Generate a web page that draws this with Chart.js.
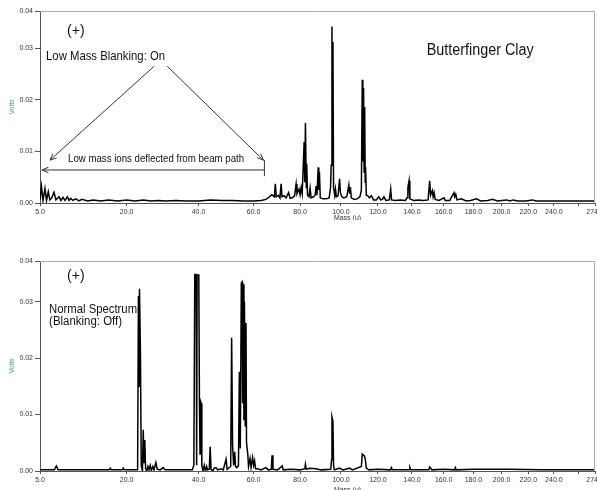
<!DOCTYPE html>
<html>
<head>
<meta charset="utf-8">
<script src="https://cdn.jsdelivr.net/npm/chart.js@4/dist/chart.umd.min.js"></script>
<style>
  body { margin: 0; background: #fff; overflow: hidden; width: 597px; height: 490px; }
  .panel { position: absolute; left: 0; width: 597px; overflow: hidden; }
  #top-panel { top: 0; height: 220px; }
  #bottom-panel { top: 249px; height: 241px; }
</style>
</head>
<body>
<div class="panel" id="top-panel"><canvas id="top-chart" width="597" height="230"></canvas></div>
<div class="panel" id="bottom-panel"><canvas id="bottom-chart" width="597" height="250"></canvas></div>
<script>
// x axis (mass) ticks, the mass axis is on a square-root scale
const massTicks = [5, 20, 40, 60, 80, 100, 120, 140, 160, 180, 200, 220, 240, 260, 274];
const massTickLabels = ['5.0', '20.0', '40.0', '60.0', '80.0', '100.0', '120.0', '140.0', '160.0', '180.0', '200.0', '220.0', '240.0', '', '274.0'];
const voltTicks = [0, 0.01, 0.02, 0.03, 0.0372];
const voltTickLabels = ['0.00', '0.01', '0.02', '0.03', '0.04'];

// Low mass blanking on
const topMass = [
    5.0, 5.17, 5.35, 5.59, 5.78, 6.0, 6.2, 6.45, 6.75, 7.0,
    7.44, 7.7, 8.01, 8.3, 8.66, 8.9, 9.18, 9.5, 9.98, 10.5,
    11, 12, 13, 14.5, 16, 18, 20, 22, 24, 26,
    28, 30, 33, 36, 40, 44, 48, 52, 56, 60,
    63, 65, 66.5, 67.5, 68.6, 69.0, 69.4, 70.3, 71.0, 71.5,
    71.9, 72.7, 73.7, 74.8, 75.5, 76.5, 77.5, 78.2, 78.6, 79.5,
    80.0, 80.5, 81.0, 81.9, 82.2, 82.5, 82.9, 83.1, 83.5, 84.2,
    84.7, 85.2, 86.3, 87.1, 87.6, 88.0, 88.6, 88.9, 89.2, 89.6,
    91, 92.5, 94, 94.7, 95.0, 95.4, 95.6, 95.9, 96.2, 96.8,
    97.2, 97.6, 98.5, 99.3, 99.7, 100.5, 101.5, 103, 104.1, 104.5,
    104.9, 105.4, 107, 108.5, 110, 110.8, 111.3, 111.6, 112.0, 112.3,
    112.6, 112.9, 113.1, 113.5, 114.4, 115.2, 116.3, 117.5, 119, 120.4,
    121.5, 122.5, 123.4, 124.5, 126.5, 127.3, 127.8, 130, 133, 136,
    137.0, 137.5, 138.2, 138.7, 141, 144, 147, 150, 151.0, 151.6,
    152.7, 153.2, 153.8, 154.5, 157, 160.2, 161, 164, 166.8, 167.3,
    168.0, 168.8, 171.8, 175, 178, 182.1, 185, 190, 193.5, 197,
    203.7, 206, 208.6, 212, 218, 223.3, 226, 235, 245, 255,
    265, 274
];
const topVolts = [
    0.0006, 0.0032, 0.0005, 0.0028, 0.0005, 0.0022, 0.0006, 0.0010, 0.0021, 0.0006,
    0.0012, 0.0005, 0.0011, 0.0005, 0.0012, 0.0005, 0.0009, 0.0005, 0.0008, 0.0004,
    0.0007, 0.0004, 0.0006, 0.0004, 0.0006, 0.0004, 0.0006, 0.0004, 0.0006, 0.0004,
    0.0005, 0.0004, 0.0005, 0.0004, 0.0004, 0.0006, 0.0005, 0.0005, 0.0004, 0.0004,
    0.0005, 0.0007, 0.0012, 0.0016, 0.0012, 0.0037, 0.0012, 0.0015, 0.0010, 0.0037,
    0.0012, 0.0014, 0.0010, 0.0020, 0.0009, 0.0010, 0.0014, 0.0037, 0.0018, 0.0027,
    0.0016, 0.0030, 0.0018, 0.0118, 0.0040, 0.0155, 0.0030, 0.0076, 0.0015, 0.0012,
    0.0029, 0.0010, 0.0012, 0.0015, 0.0033, 0.0015, 0.0069, 0.0025, 0.0060, 0.0010,
    0.0008, 0.0008, 0.0010, 0.0030, 0.0073, 0.0342, 0.0100, 0.0312, 0.0030, 0.0015,
    0.0027, 0.0012, 0.0014, 0.0047, 0.0020, 0.0012, 0.0010, 0.0012, 0.0035, 0.0018,
    0.0031, 0.0010, 0.0007, 0.0008, 0.0012, 0.0025, 0.0239, 0.0080, 0.0223, 0.0060,
    0.0186, 0.0040, 0.0069, 0.0015, 0.0014, 0.0010, 0.0014, 0.0006, 0.0006, 0.0012,
    0.0006, 0.0007, 0.0012, 0.0005, 0.0006, 0.0027, 0.0006, 0.0005, 0.0006, 0.0005,
    0.0010, 0.0030, 0.0043, 0.0008, 0.0005, 0.0006, 0.0005, 0.0006, 0.0043, 0.0015,
    0.0024, 0.0012, 0.0020, 0.0007, 0.0005, 0.0010, 0.0005, 0.0005, 0.0020, 0.0012,
    0.0017, 0.0006, 0.0008, 0.0004, 0.0005, 0.0008, 0.0004, 0.0005, 0.0007, 0.0004,
    0.0006, 0.0004, 0.0006, 0.0004, 0.0004, 0.0006, 0.0004, 0.0004, 0.0004, 0.0004,
    0.0004, 0.0004
];

// Normal spectrum, blanking off
const bottomMass = [
    5, 6.8, 7.06, 7.3, 10, 16.2, 16.4, 16.6, 19.0, 19.2,
    19.4, 22.6, 22.8, 22.95, 23.06, 23.3, 23.5, 23.8, 24.0, 24.2,
    24.4, 24.6, 24.9, 25.2, 25.5, 25.8, 26.1, 26.5, 26.8, 27.3,
    27.7, 28.5, 29.3, 29.8, 32, 35, 38.0, 38.5, 38.8, 39.25,
    39.4, 39.55, 40.1, 40.3, 40.5, 40.6, 40.9, 41.1, 41.5, 41.9,
    42.3, 42.7, 43.0, 43.6, 43.9, 44.2, 44.8, 45.3, 45.9, 46.5,
    47.7, 48.5, 49.5, 49.9, 51.2, 51.55, 51.9, 52.3, 52.7, 53.0,
    53.4, 54.1, 54.45, 54.8, 55.2, 55.5, 55.7, 56.0, 56.2, 56.4,
    56.7, 57.0, 57.2, 57.7, 58.0, 58.6, 59.0, 59.6, 60.0, 60.4,
    60.8, 61.6, 63, 65, 66, 67.3, 67.6, 68.0, 70, 72.0,
    72.4, 76, 80, 82.2, 82.5, 82.9, 84.4, 87.6, 90, 94.8,
    95.2, 95.4, 95.9, 96.2, 96.6, 99.3, 101, 104.5, 106, 110.8,
    111.3, 111.9, 112.4, 112.9, 113.5, 115, 120, 127.2, 127.7, 128.3,
    138.2, 138.7, 139.2, 150.5, 151, 151.7, 152.3, 160, 167.2, 167.7,
    168.3, 180, 205, 230, 274
];
const bottomVolts = [
    0.0002, 0.0002, 0.0009, 0.0002, 0.0002, 0.0002, 0.0005, 0.0002, 0.0002, 0.0005,
    0.0002, 0.0002, 0.0310, 0.0150, 0.0323, 0.0209, 0.0010, 0.0000, 0.0073, 0.0015,
    0.0055, 0.0004, 0.0000, 0.0008, 0.0002, 0.0010, 0.0001, 0.0008, 0.0002, 0.0015,
    0.0003, 0.0002, 0.0006, 0.0002, 0.0002, 0.0002, 0.0002, 0.0010, 0.0348, 0.0348,
    0.0010, 0.0347, 0.0347, 0.0129, 0.0030, 0.0125, 0.0120, 0.0010, 0.0000, 0.0010,
    0.0000, 0.0008, 0.0002, 0.0003, 0.0043, 0.0003, 0.0000, 0.0005, 0.0006, 0.0002,
    0.0004, 0.0002, 0.0021, 0.0003, 0.0008, 0.0236, 0.0045, 0.0010, 0.0034, 0.0008,
    0.0006, 0.0009, 0.0176, 0.0040, 0.0333, 0.0335, 0.0120, 0.0331, 0.0090, 0.0300,
    0.0080, 0.0262, 0.0050, 0.0030, 0.0008, 0.0022, 0.0006, 0.0024, 0.0010, 0.0018,
    0.0004, 0.0004, 0.0002, 0.0006, 0.0002, 0.0003, 0.0028, 0.0003, 0.0002, 0.0009,
    0.0002, 0.0003, 0.0002, 0.0004, 0.0012, 0.0003, 0.0005, 0.0004, 0.0002, 0.0003,
    0.0020, 0.0096, 0.0088, 0.0010, 0.0002, 0.0005, 0.0002, 0.0005, 0.0002, 0.0008,
    0.0030, 0.0028, 0.0027, 0.0022, 0.0005, 0.0002, 0.0003, 0.0002, 0.0006, 0.0002,
    0.0002, 0.0006, 0.0002, 0.0002, 0.0007, 0.0005, 0.0002, 0.0003, 0.0002, 0.0006,
    0.0002, 0.0003, 0.0003, 0.0002, 0.0002
];

// linear scale drawn against sqrt(value), like a TOF mass axis
class SqrtScale extends Chart.LinearScale {
    getPixelForValue(value) {
        const a = Math.sqrt(this.min), b = Math.sqrt(this.max);
        return this.getPixelForDecimal((Math.sqrt(Math.max(value, 0)) - a) / (b - a));
    }
    getValueForPixel(pixel) {
        const a = Math.sqrt(this.min), b = Math.sqrt(this.max);
        const s = a + this.getDecimalForPixel(pixel) * (b - a);
        return s * s;
    }
}
SqrtScale.id = 'sqrt';
SqrtScale.defaults = {};
Chart.register(SqrtScale);

const FONT = '"Liberation Sans", Arial, sans-serif';

function drawArrow(ctx, x1, y1, x2, y2, head) {
    ctx.beginPath();
    ctx.moveTo(x1, y1);
    ctx.lineTo(x2, y2);
    ctx.stroke();
    if (!head) return;
    const ang = Math.atan2(y2 - y1, x2 - x1);
    ctx.beginPath();
    ctx.moveTo(x2 - 7 * Math.cos(ang - 0.4), y2 - 7 * Math.sin(ang - 0.4));
    ctx.lineTo(x2, y2);
    ctx.lineTo(x2 - 7 * Math.cos(ang + 0.4), y2 - 7 * Math.sin(ang + 0.4));
    ctx.stroke();
}

// frame + the text / arrows written on the plot
const notesPlugin = {
    id: 'notes',
    afterDraw(chart, args, opts) {
        const { ctx, chartArea: area, scales: { x, y } } = chart;
        ctx.save();
        ctx.strokeStyle = '#aaaaaa';
        ctx.lineWidth = 1;
        ctx.beginPath();
        ctx.moveTo(area.left, area.top + 0.5);
        ctx.lineTo(area.right - 0.5, area.top + 0.5);
        ctx.lineTo(area.right - 0.5, area.bottom);
        ctx.stroke();

        ctx.fillStyle = '#111';
        ctx.textBaseline = 'middle';
        ctx.textAlign = 'left';
        (opts.texts || []).forEach(t => {
            ctx.font = t.size + 'px ' + FONT;
            ctx.fillText(t.text, x.getPixelForValue(t.mass), y.getPixelForValue(t.volts), t.width);
        });

        ctx.strokeStyle = '#333';
        (opts.arrows || []).forEach(a => {
            drawArrow(ctx, x.getPixelForValue(a.from[0]), y.getPixelForValue(a.from[1]),
                x.getPixelForValue(a.to[0]), y.getPixelForValue(a.to[1]), a.head);
        });

        // x axis title
        ctx.fillStyle = '#333';
        ctx.textAlign = 'center';
        ctx.font = '7px ' + FONT;
        ctx.fillText('Mass (u)', x.getPixelForValue(103.4), area.bottom + opts.titleGap);
        ctx.restore();
    }
};

function makeChart(id, mass, volts, padTop, xHeight, notes) {
    const ctx = document.getElementById(id).getContext('2d');
    return new Chart(ctx, {
        type: 'line',
        data: {
            datasets: [{
                data: mass.map((m, i) => ({ x: m, y: volts[i] })),
                borderColor: '#000',
                borderWidth: 1.5,
                pointRadius: 0,
                tension: 0
            }]
        },
        options: {
            responsive: false,
            animation: false,
            layout: { padding: { left: 0, top: padTop, right: 2, bottom: 0 } },
            plugins: { legend: { display: false }, tooltip: { enabled: false }, notes: notes },
            scales: {
                x: {
                    type: 'sqrt',
                    min: 5,
                    max: 274,
                    afterBuildTicks: s => { s.ticks = massTicks.map(v => ({ value: v })); },
                    afterFit: s => { s.height = xHeight; s.paddingLeft = 0; s.paddingRight = 0; },
                    grid: { drawOnChartArea: false, tickLength: 3, color: '#555' },
                    border: { color: '#555' },
                    ticks: {
                        autoSkip: false,
                        maxRotation: 0,
                        padding: 2,
                        color: '#333',
                        font: { size: 7, family: FONT },
                        callback: (v, i) => massTickLabels[i]
                    }
                },
                y: {
                    min: 0,
                    max: 0.0372,
                    afterBuildTicks: s => { s.ticks = voltTicks.map(v => ({ value: v })); },
                    afterFit: s => { s.width = 40; s.paddingTop = 0; s.paddingBottom = 0; },
                    grid: { drawOnChartArea: false, tickLength: 5, color: '#555' },
                    border: { color: '#555' },
                    ticks: {
                        padding: 2,
                        color: '#333',
                        font: { size: 7, family: FONT },
                        callback: (v, i) => voltTickLabels[i]
                    },
                    title: {
                        display: true,
                        text: 'Volts',
                        color: '#4f9a94',
                        font: { size: 7, family: FONT },
                        padding: { top: 8, bottom: 0 }
                    }
                }
            }
        },
        plugins: [notesPlugin]
    });
}

makeChart('top-chart', topMass, topVolts, 11, 27, {
    titleGap: 15,
    texts: [
        { text: '(+)', mass: 8.61, volts: 0.0333, size: 14, width: 19 },
        { text: 'Low Mass Blanking: On', mass: 5.72, volts: 0.0284, size: 13, width: 119 },
        { text: 'Butterfinger Clay', mass: 149.1, volts: 0.0296, size: 16, width: 107 },
        { text: 'Low mass ions deflected from beam path', mass: 8.76, volts: 0.0085, size: 11.5, width: 176 }
    ],
    arrows: [
        { from: [26.85, 0.0265], to: [6.22, 0.0083], head: true },
        { from: [30.45, 0.0265], to: [64.0, 0.0083], head: true },
        { from: [64.4, 0.0064], to: [5.23, 0.0064], head: true },
        { from: [64.4, 0.0083], to: [64.4, 0.0052], head: false }
    ]
});

makeChart('bottom-chart', bottomMass, bottomVolts, 12, 28, {
    titleGap: 19,
    texts: [
        { text: '(+)', mass: 8.61, volts: 0.0346, size: 14, width: 19 },
        { text: 'Normal Spectrum', mass: 6.1, volts: 0.0286, size: 12, width: 88 },
        { text: '(Blanking: Off)', mass: 6.1, volts: 0.0265, size: 12, width: 73 }
    ],
    arrows: []
});
</script>
</body>
</html>
